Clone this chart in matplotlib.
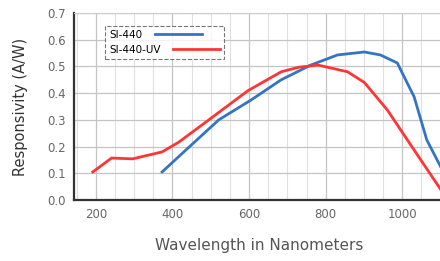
import numpy as np
import matplotlib.pyplot as plt
from matplotlib.ticker import MultipleLocator

# SI-440 (blue) and SI-440-UV (red) responsivity curves
si440_nm = [373, 435, 521, 606, 684, 761, 831, 901, 943, 987, 1031, 1064, 1100]
si440_resp = [0.105, 0.187, 0.300, 0.375, 0.450, 0.505, 0.543, 0.554, 0.543, 0.513, 0.386, 0.225, 0.125]

si440uv_nm = [192, 241, 296, 373, 417, 495, 565, 598, 684, 730, 780, 857, 901, 961, 1031, 1100]
si440uv_resp = [0.105, 0.157, 0.154, 0.180, 0.217, 0.300, 0.375, 0.410, 0.480, 0.497, 0.505, 0.480, 0.440, 0.337, 0.187, 0.040]

x_ticks = [200, 400, 600, 800, 1000]
y_ticks = [0.0, 0.1, 0.2, 0.3, 0.4, 0.5, 0.6, 0.7]

W, H = 440, 261
fig = plt.figure(figsize=(W / 100, H / 100), dpi=100, facecolor="white")
ax = fig.add_axes([74 / W, 1 - 200 / H, (W - 74) / W + 0.01, 187 / H])

ax.plot(si440_nm, si440_resp, color="#3574c4", linewidth=2, label="SI-440")
ax.plot(si440uv_nm, si440uv_resp, color="#ff3535", linewidth=2, label="SI-440-UV")

ax.set_xlim(143, 1110)
ax.set_ylim(0.0, 0.7)
ax.set_xticks(x_ticks)
ax.set_yticks(y_ticks)
ax.xaxis.set_minor_locator(MultipleLocator(50))
ax.grid(True, which="major", color="#c4c4c4", linewidth=0.9)
ax.grid(True, which="minor", axis="x", color="#e0e0e0", linewidth=0.8)
ax.tick_params(which="both", length=0, labelsize=8.5, colors="#666666", pad=6)

for side in ["left", "bottom"]:
    ax.spines[side].set_color("#333333")
    ax.spines[side].set_linewidth(1.6)
ax.spines["top"].set_color("#cccccc")
ax.spines["right"].set_visible(False)

ax.set_xlabel("Wavelength in Nanometers", fontsize=11, color="#555555", labelpad=12)
ax.set_ylabel("Responsivity (A/W)", fontsize=10.5, color="#333333", labelpad=14)

leg = ax.legend(loc="upper left", bbox_to_anchor=(0.07, 0.96), markerfirst=False,
                handlelength=4.5, fontsize=7.5, frameon=True, fancybox=False,
                borderpad=0.4, labelspacing=0.5, handletextpad=1.2)
# labels flush left, as in the original legend
for col in leg._legend_handle_box.get_children():
    col.align = "left"
leg.get_frame().set_edgecolor("#555555")
leg.get_frame().set_linestyle("--")
leg.get_frame().set_linewidth(0.8)

fig.savefig("out.png", dpi=100, facecolor="white")
